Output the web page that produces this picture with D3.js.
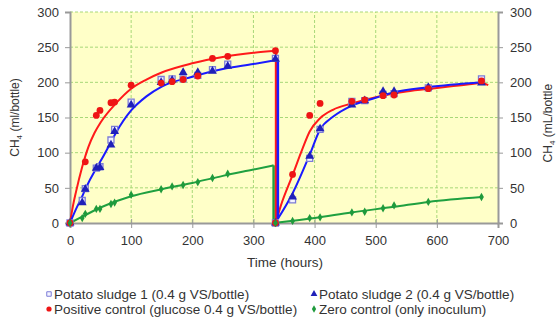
<!DOCTYPE html>
<html>
<head>
<meta charset="utf-8">
<script src="https://cdn.jsdelivr.net/npm/d3@7"></script>
<style>
  body { margin: 0; background: #fff; }
  text { font-family: "Liberation Sans", Arial, sans-serif; fill: #333; }
</style>
</head>
<body>
<div id="chart"></div>
<script>
// measured points, [hours, CH4]
var sludge1 = [[0,0],[20,32],[25,49],[43,78],[49,80],[67,118],[73,133],[100,172],[149,204],[167,205],[185,205],[209,210],[233,218],[258,226],[336,234],
  [336,0],[364,33],[392,92],[409,133],[461,173],[482,174],[512,183],[530,184],[586,192],[673,205]];
var sludge2 = [[0,0],[20,29],[25,48],[43,78],[49,79],[67,111],[73,130],[100,168],[149,200],[167,203],[185,214],[209,214],[233,216],[258,223],[336,233],
  [336,0],[364,37],[392,95],[409,134],[461,168],[482,174],[512,187],[530,187],[586,193],[673,199]];
var positive = [[0,0],[25,87],[43,153],[49,160],[67,171],[73,172],[100,196],[149,199],[167,201],[185,204],[209,209],[233,234],[258,237],[336,245],
  [336,0],[364,69],[392,153],[409,170],[461,173],[482,175],[512,181],[530,182],[586,191],[673,202]];
var zero = [[0,0],[20,7],[25,13],[43,20],[49,20],[67,27],[73,29],[100,40],[149,48],[167,52],[185,54],[209,58],[233,64],[258,70],[336,0],
  [364,3],[392,7],[409,8],[461,15],[482,16],[512,21],[530,25],[586,30],[673,37]];

// fitted curves (two incubation phases each)
var redFit1 = [[0,0],[5,25],[10,45],[20,80],[30,108],[40,128],[50,143],[75,170],[100,191],[125,204],[150,214],[200,227],[250,236],[300,242],[337,245]];
var redFit2 = [[337,2],[345,25],[364,68],[380,105],[392,130],[409,149],[430,161],[461,170],[500,179],[550,187],[600,192],[650,197],[673,199],[684,196]];
var blueFit1 = [[0,0],[10,20],[20,38],[25,48],[43,78],[50,88],[67,115],[75,128],[100,160],[125,180],[150,194],[200,208],[250,219],[300,226],[340,232]];
var blueFit2 = [[340,6],[364,42],[392,97],[409,133],[430,151],[461,167],[500,178],[530,186],[586,193],[673,200]];
var greenFit1 = [[0,0],[20,9],[50,22],[100,38],[150,48],[200,57],[250,67],[300,76],[333,82]];
var greenFit2 = [[333,0],[400,7],[460,15],[530,23],[586,30],[673,37]];

var xTicks = [0,100,200,300,400,500,600,700];
var yTicks = [0,50,100,150,200,250,300];
var legendLabels = ["Potato sludge 1 (0.4 g VS/bottle)", "Potato sludge 2 (0.4 g VS/bottle)",
  "Positive control (glucose 0.4 g VS/bottle)", "Zero control (only inoculum)"];

var W = 557, H = 318;
var m = {left: 70, right: 59, top: 12, bottom: 95};
var svg = d3.select("#chart").append("svg").attr("width", W).attr("height", H);

var x = d3.scaleLinear().domain([0, 700]).range([m.left, W - m.right]);
var y = d3.scaleLinear().domain([0, 300]).range([H - m.bottom, m.top]);

svg.append("rect").attr("x", x(0)).attr("y", y(300))
  .attr("width", x(700) - x(0)).attr("height", y(0) - y(300)).attr("fill", "#ffffc8");

// grid
svg.selectAll(".gx").data(xTicks.filter(function(d){ return d > 0 && d < 700; })).enter()
  .append("line").attr("x1", x).attr("x2", x).attr("y1", y(0)).attr("y2", y(300))
  .attr("stroke", "#a8d878").attr("stroke-dasharray", "3,2");
svg.selectAll(".gy").data(yTicks.filter(function(d){ return d > 0; })).enter()
  .append("line").attr("y1", y).attr("y2", y).attr("x1", x(0)).attr("x2", x(700))
  .attr("stroke", "#a8d878").attr("stroke-dasharray", "3,2");

// axes
var gl = svg.append("g").attr("transform", "translate(" + x(0) + ",0)")
  .call(d3.axisLeft(y).tickValues(yTicks).tickSize(5).tickPadding(6));
var gr = svg.append("g").attr("transform", "translate(" + x(700) + ",0)")
  .call(d3.axisRight(y).tickValues(yTicks).tickSize(5).tickPadding(7));
var gb = svg.append("g").attr("transform", "translate(0," + y(0) + ")")
  .call(d3.axisBottom(x).tickValues(xTicks).tickSize(5).tickPadding(8));
[gl, gr, gb].forEach(function(g) {
  g.select(".domain").attr("stroke", "#999").attr("stroke-width", 2);
  g.selectAll(".tick line").attr("stroke", "#999");
  g.selectAll(".tick text").style("font-size", "13px").attr("fill", "#333")
    .style("font-family", "'Liberation Sans', Arial, sans-serif");
});
gb.selectAll(".tick line").attr("y1", -4);

// fitted lines
var line = d3.line().x(function(d){ return x(d[0]); }).y(function(d){ return y(d[1]); }).curve(d3.curveMonotoneX);
var straight = d3.line().x(function(d){ return x(d[0]); }).y(function(d){ return y(d[1]); });
function fit(a, b, color, w) {
  svg.append("path").attr("d", line(a)).attr("fill", "none").attr("stroke", color).attr("stroke-width", w);
  svg.append("path").attr("d", straight([a[a.length - 1], b[0]])).attr("fill", "none").attr("stroke", color).attr("stroke-width", 2.5);
  svg.append("path").attr("d", line(b)).attr("fill", "none").attr("stroke", color).attr("stroke-width", w);
}
fit(greenFit1, greenFit2, "#1fa040", 2);
fit(redFit1, redFit2, "#ff1a1a", 2);
fit(blueFit1, blueFit2, "#1a1aff", 2);

// markers
function pos(d) { return "translate(" + x(d[0]) + "," + y(d[1]) + ")"; }
svg.selectAll(".s1").data(sludge1).enter().append("path")
  .attr("d", d3.symbol(d3.symbolSquare, 36)).attr("transform", pos)
  .attr("fill", "#f4f4ff").attr("stroke", "#7c7cd8").attr("stroke-width", 1.3);
svg.selectAll(".s2").data(sludge2).enter().append("path")
  .attr("d", d3.symbol(d3.symbolTriangle, 34)).attr("transform", pos)
  .attr("fill", "#2020b8");
svg.selectAll(".pc").data(positive).enter().append("circle")
  .attr("cx", function(d){ return x(d[0]); }).attr("cy", function(d){ return y(d[1]); })
  .attr("r", 3.4).attr("fill", "#ee1515");
svg.selectAll(".zc").data(zero).enter().append("path")
  .attr("d", d3.symbol(d3.symbolDiamond, 20)).attr("transform", pos)
  .attr("fill", "#1f9a3c");

// axis titles
var yl = svg.append("text").attr("transform", "translate(19," + y(150) + ") rotate(-90)")
  .attr("text-anchor", "middle").style("font-size", "12px");
yl.append("tspan").text("CH");
yl.append("tspan").text("4").attr("dy", 3).style("font-size", "8px");
yl.append("tspan").text(" (ml/bottle)").attr("dy", -3);

var yr = svg.append("text").attr("transform", "translate(552," + y(142) + ") rotate(-90)")
  .attr("text-anchor", "middle").style("font-size", "12px");
yr.append("tspan").text("CH");
yr.append("tspan").text("4").attr("dy", 3).style("font-size", "8px");
yr.append("tspan").text(" (mL/bottle").attr("dy", -3);

svg.append("text").attr("x", 285).attr("y", 267).attr("text-anchor", "middle")
  .style("font-size", "13.5px").text("Time (hours)");

// legend
var legPos = [[49, 294], [314, 294], [49, 309], [314, 309]];
var leg = svg.selectAll(".leg").data(legendLabels).enter().append("g")
  .attr("transform", function(d, i){ return "translate(" + legPos[i][0] + "," + legPos[i][1] + ")"; });
leg.append("text").attr("x", 5).attr("y", 5).style("font-size", "13.5px").text(function(d){ return d; });
leg.each(function(d, i) {
  var g = d3.select(this);
  if (i == 0) g.append("path").attr("d", d3.symbol(d3.symbolSquare, 20)).attr("fill", "#f4f4ff").attr("stroke", "#7c7cd8");
  if (i == 1) g.append("path").attr("d", d3.symbol(d3.symbolTriangle, 20)).attr("fill", "#2020b8");
  if (i == 2) g.append("circle").attr("r", 2.6).attr("fill", "#ee1515");
  if (i == 3) g.append("path").attr("d", d3.symbol(d3.symbolDiamond, 16)).attr("fill", "#1f9a3c");
});
</script>
</body>
</html>
